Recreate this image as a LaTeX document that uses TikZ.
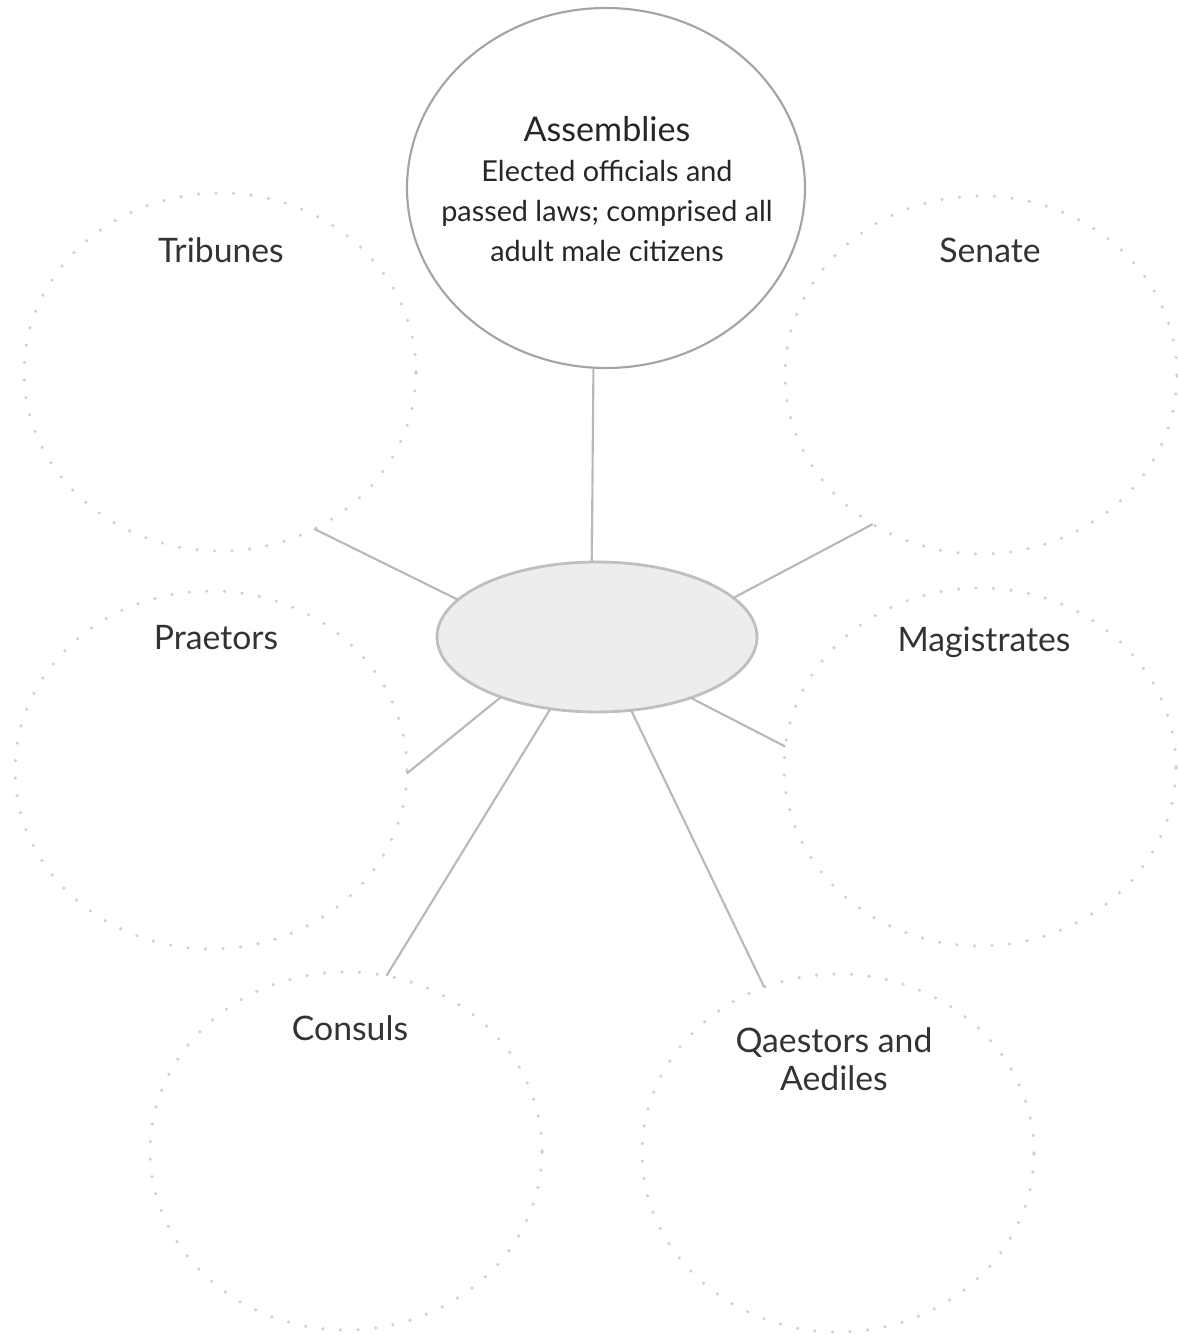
\documentclass[tikz,border=0pt]{standalone}
\usepackage{fontspec}
\setmainfont{Lato}
\usetikzlibrary{shapes.geometric}

\begin{document}
\begin{tikzpicture}[
    office/.style={ellipse, draw=black!18, line width=1pt, dash pattern=on 0pt off 5pt, line cap=round,
        minimum width=3.92cm, minimum height=3.58cm, inner sep=0pt, outer sep=0pt},
    forum/.style={ellipse, draw=black!36, line width=0.6pt, minimum width=3.98cm, minimum height=3.6cm,
        inner sep=0pt, outer sep=0pt},
    hubstyle/.style={ellipse, draw=black!25, fill=black!7, line width=0.8pt,
        minimum width=3.2cm, minimum height=1.5cm, inner sep=0pt, outer sep=0pt},
    spoke/.style={draw=black!28, line width=0.6pt},
    lbl/.style={text=black!80, font=\fontsize{9.6}{10.8}\selectfont, align=center, inner sep=0pt}
]
    \useasboundingbox (0,0) rectangle (11.78,13.35);

    \node[forum] (asm) at (6.06,11.47) {};
    \node[hubstyle] (hub) at (5.97,6.98) {};

    \node[office] (trib) at (2.20,9.63) {};
    \node[office] (sen) at (9.81,9.60) {};
    \node[office] (prae) at (2.11,5.65) {};
    \node[office] (mag) at (9.80,5.68) {};
    \node[office] (cons) at (3.46,1.84) {};
    \node[office] (qaes) at (8.38,1.82) {};

    \node[lbl, text=black!85, font=\fontsize{8.2}{11.4}\selectfont] (l0) at (6.07,11.46)
        {{\fontsize{9.7}{11.4}\selectfont Assemblies}\\ Elected officials and\\
        passed laws; comprised all\\ adult male citizens};
    \node[lbl, anchor=base] (l1) at (2.21,10.72) {Tribunes};
    \node[lbl, anchor=base] (l2) at (9.90,10.73) {Senate};
    \node[lbl, anchor=base] (l3) at (2.16,6.85) {Praetors};
    \node[lbl, anchor=base] (l4) at (9.84,6.83) {Magistrates};
    \node[lbl, anchor=base] (l5) at (3.50,2.95) {Consuls};
    \node[lbl] (l6) at (8.34,2.76) {Qaestors and\\ Aediles};

    \draw[spoke] (hub.94) -- (asm.266);
    \draw[spoke] (hub.165) -- (trib.301);
    \draw[spoke] (hub.16) -- (sen.234);
    \draw[spoke] (hub.212) -- (prae.359);
    \draw[spoke] (hub.237) -- (cons.77);
    \draw[spoke] (hub.295) -- (qaes.114);
    \draw[spoke] (hub.327) -- (mag.174);
\end{tikzpicture}
\end{document}
